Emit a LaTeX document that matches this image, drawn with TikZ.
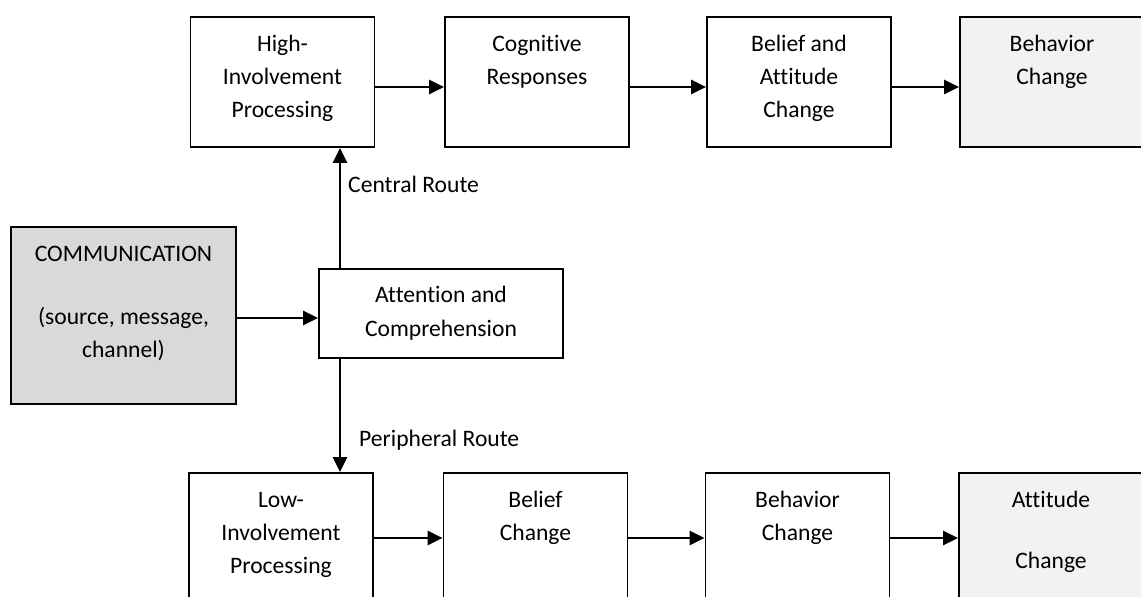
\documentclass[tikz,border=0pt]{standalone}
\usepackage{fontspec}
\setmainfont{Carlito}[Ligatures=NoCommon]
\usetikzlibrary{arrows.meta}
\definecolor{commfill}{HTML}{D9D9D9}
\definecolor{endfill}{HTML}{F2F2F2}
\tikzset{
  box/.style={draw=black, line width=1.9pt, rectangle, inner sep=0pt,
    minimum width=184pt, minimum height=130pt},
  txt/.style={anchor=north, inner sep=0pt, align=center,
    font=\fontsize{23.6}{33}\selectfont},
  lbl/.style={anchor=base west, inner sep=0pt,
    font=\fontsize{23.6}{33}\selectfont},
  flow/.style={line width=2.6pt, -{Triangle[length=15pt,width=14pt]}}
}
\begin{document}
\begin{tikzpicture}[x=1pt,y=-1pt]
  \useasboundingbox (0,0) rectangle (1141,597);
  \clip (0,0) rectangle (1141,597);

  % upper row: central route
  \node[box] (hi)  at (282.5,82) {};
  \node[box] (cog) at (537,82) {};
  \node[box] (bat) at (799,82) {};
  \node[box, fill=endfill] (bch) at (1052,82) {};
  % lower row: peripheral route
  \node[box] (low) at (281,538) {};
  \node[box] (bel) at (535.5,538) {};
  \node[box] (bhc) at (797.5,538) {};
  \node[box, fill=endfill] (att) at (1051,538) {};
  % source and first stage
  \node[box, fill=commfill, minimum width=225pt, minimum height=177pt] (comm) at (123.5,315.5) {};
  \node[box, minimum width=244pt, minimum height=89pt] (ac) at (441,313.5) {};

  % box texts
  \node[txt] (hi-t)   at ([yshift=-11.9pt]hi.north)  {\strut High-\\Involvement\\Processing};
  \node[txt] (cog-t)  at ([yshift=-11.9pt]cog.north) {\strut Cognitive\\Responses};
  \node[txt] (bat-t)  at ([yshift=-11.9pt]bat.north) {\strut Belief and\\Attitude\\Change};
  \node[txt] (bch-t)  at ([yshift=-11.9pt]bch.north) {\strut Behavior\\Change};
  \node[txt] (low-t)  at ([yshift=-11.9pt]low.north) {\strut Low-\\Involvement\\Processing};
  \node[txt] (bel-t)  at ([yshift=-11.9pt]bel.north) {\strut Belief\\Change};
  \node[txt] (bhc-t)  at ([yshift=-11.9pt]bhc.north) {\strut Behavior\\Change};
  \node[txt] (att-t)  at ([yshift=-11.9pt]att.north) {\strut Attitude\\[28pt]Change};
  \node[txt] (comm-t) at ([yshift=-12.6pt]comm.north) {\strut COMMUNICATION\\[30pt](source, message,\\channel)};
  \node[txt] (ac-t)   at ([yshift=-10.9pt]ac.north)  {\strut Attention and\\[1pt]Comprehension};

  % connectors along the rows
  \draw[flow] ([yshift=-5pt]hi.east)  -- ([yshift=-5pt]cog.west);
  \draw[flow] ([yshift=-5pt]cog.east) -- ([yshift=-5pt]bat.west);
  \draw[flow] ([yshift=-5pt]bat.east) -- ([yshift=-5pt]bch.west);
  \draw[flow] (low.east) -- (bel.west);
  \draw[flow] (bel.east) -- (bhc.west);
  \draw[flow] (bhc.east) -- (att.west);

  % communication into attention, then the two routes
  \draw[flow] ([yshift=-4.5pt]ac.west -| comm.east) -- ([yshift=-4.5pt]ac.west);
  \coordinate (route) at (340,0);
  \draw[flow] (route |- ac.north) -- (route |- hi.south);
  \draw[flow] (route |- ac.south) -- (route |- low.north);
  \node[lbl] (central) at (348,192) {Central Route};
  \node[lbl] (peripheral) at (359,446) {Peripheral Route};
\end{tikzpicture}
\end{document}
